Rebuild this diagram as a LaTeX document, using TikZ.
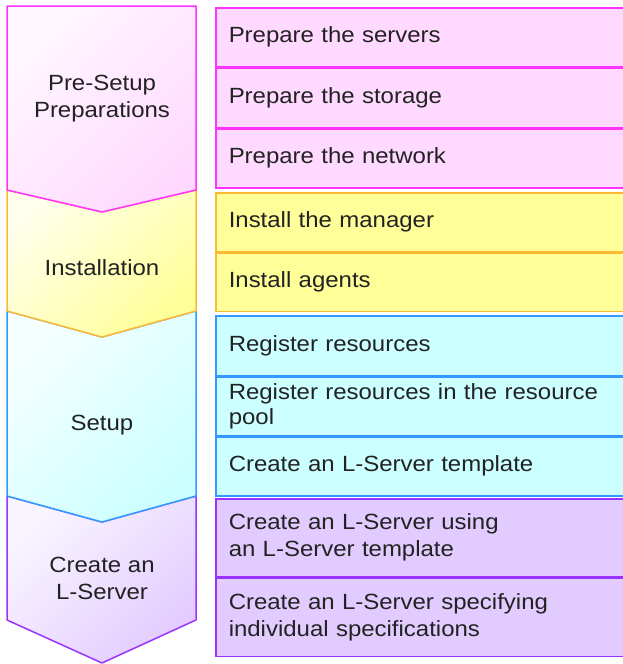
\documentclass[tikz,border=0pt]{standalone}
\usepackage{fontspec}
\setmainfont{Liberation Sans}[FakeStretch=1.09]
\usetikzlibrary{positioning}
\definecolor{prep}{HTML}{FF33FF}
\definecolor{prepfill}{HTML}{FFD9FF}
\definecolor{inst}{HTML}{FFB833}
\definecolor{instfill}{HTML}{FFFF99}
\definecolor{setup}{HTML}{3399FF}
\definecolor{setupfill}{HTML}{CCFFFF}
\definecolor{lsrv}{HTML}{9933FF}
\definecolor{lsrvfill}{HTML}{E2CCFF}
\definecolor{txt}{HTML}{222222}

\tikzset{
  taskbox/.style 2 args={draw=#1, fill=#2, line width=1.5pt, anchor=north west,
    text width=394pt, inner xsep=13pt, inner ysep=0pt, align=left, text=txt},
  phase/.style 2 args={draw=#1, line width=1.5pt, line join=round,
    left color=#2!20, right color=#2, shading angle=45},
  phaselabel/.style={align=center, text=txt},
}

\begin{document}
\begin{tikzpicture}[x=1pt, y=-1pt, font=\fontsize{22}{27}\selectfont]
  \useasboundingbox (0,0) rectangle (623,664);

  % phase chevrons, bottom one first so each upper border lies on top
  \draw[phase={lsrv}{lsrvfill}] (7,496) -- (102,522) -- (196,496) -- (196,620) -- (102,663) -- (7,620) -- cycle;
  \draw[phase={setup}{setupfill}] (7,311) -- (102,337) -- (196,311) -- (196,496) -- (102,522) -- (7,496) -- cycle;
  \draw[phase={inst}{instfill}] (7,190) -- (102,212) -- (196,190) -- (196,311) -- (102,337) -- (7,311) -- cycle;
  \draw[phase={prep}{prepfill}] (7,6) -- (196,6) -- (196,190) -- (102,212) -- (7,190) -- cycle;

  \node[phaselabel] (pre) at (102,99) {Pre-Setup\\Preparations};
  \node[phaselabel] (ins) at (102,268) {Installation};
  \node[phaselabel] (set) at (102,425) {Setup};
  \node[phaselabel] (crt) at (102,578) {Create an\\L-Server};

  % tasks
  \node[taskbox={prep}{prepfill}, minimum height=59pt] (servers) at (215,7) {Prepare the servers};
  \node[taskbox={prep}{prepfill}, minimum height=59pt] (storage) at (servers.south west) {Prepare the storage};
  \node[taskbox={prep}{prepfill}, minimum height=59pt] (network) at (storage.south west) {Prepare the network};

  \node[taskbox={inst}{instfill}, minimum height=59pt] (manager) at (215,192) {Install the manager};
  \node[taskbox={inst}{instfill}, minimum height=58pt] (agents) at (manager.south west) {Install agents};

  \node[taskbox={setup}{setupfill}, minimum height=60pt] (register) at (215,315) {Register resources};
  \node[taskbox={setup}{setupfill}, minimum height=58pt, font=\fontsize{22}{25}\selectfont] (pool) at (register.south west) {Register resources in the resource\\pool};
  \node[taskbox={setup}{setupfill}, minimum height=59pt] (template) at (pool.south west) {Create an L-Server template};

  \node[taskbox={lsrv}{lsrvfill}, minimum height=78pt] (using) at (215,498) {Create an L-Server using\\an L-Server template};
  \node[taskbox={lsrv}{lsrvfill}, minimum height=78pt] (specs) at (using.south west) {Create an L-Server specifying\\individual specifications};
\end{tikzpicture}
\end{document}
